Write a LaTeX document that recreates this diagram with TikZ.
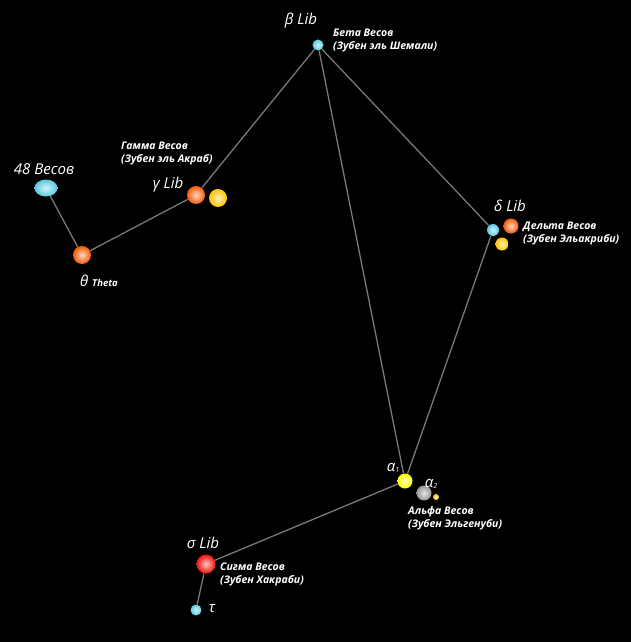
\documentclass[tikz,border=0pt]{standalone}
\usepackage{fontspec}
\setmainfont{Open Sans}
\usetikzlibrary{positioning}
\definecolor{starcyan}{RGB}{90,200,225}
\definecolor{starorange}{RGB}{245,90,5}
\definecolor{staryellow}{RGB}{255,195,0}
\definecolor{stargrey}{RGB}{150,150,150}
\definecolor{starred}{RGB}{235,20,10}
\definecolor{linkgrey}{RGB}{120,120,120}
\tikzset{
  star/.style={circle,inner sep=0pt,minimum size=#1,shading=radial},
  starcol/.style={inner color=#1!25!white,outer color=#1},
  link/.style={draw=linkgrey,line width=1.3pt},
  starname/.style={text=white,font=\itshape\fontsize{15}{15}\selectfont},
  info/.style={text=white,font=\bfseries\itshape\fontsize{10.5}{13}\selectfont,align=left,anchor=west,inner sep=0pt}
}
\begin{document}
\begin{tikzpicture}[x=1pt,y=-1pt]
  \fill[black] (0,0) rectangle (631,642);
  \useasboundingbox (0,0) rectangle (631,642);
  % stars
  \node[star=11pt,starcol=starcyan] (beta) at (318,45) {};
  \node[star=18pt,starcol=starorange] (gamma) at (196,195) {};
  \node[star=18pt,starcol=staryellow] (gammab) at (218,198) {};
  \node[star=17pt,starcol=starcyan,xscale=1.35] (f48) at (46,188) {};
  \node[star=18pt,starcol=starorange] (theta) at (82,255) {};
  \node[star=12pt,starcol=starcyan] (delta) at (493,230) {};
  \node[star=15pt,starcol=starorange] (deltab) at (511,226) {};
  \node[star=13pt,starcol=staryellow] (deltac) at (502,244) {};
  \node[star=15pt,starcol=yellow] (alpha) at (405,481) {};
  \node[star=15pt,starcol=stargrey] (alphab) at (424,493) {};
  \node[star=6pt,starcol=staryellow] (alphac) at (436,497) {};
  \node[star=19pt,starcol=starred] (sigma) at (206,564) {};
  \node[star=11pt,starcol=starcyan] (tau) at (196,610) {};
  % lines
  \draw[link] (f48) -- (theta) -- (gamma) -- (beta) -- (alpha) -- (delta) -- (beta);
  \draw[link] (alpha) -- (sigma) -- (tau);
  % labels
  \node[starname] (betaname) at (301,21) {β Lib};
  \node[info] (betainfo) at (333,41) {Бета Весов\\(Зубен эль Шемали)};
  \node[starname] (gammaname) at (168,185) {γ Lib};
  \node[info] (gammainfo) at (121,154) {Гамма Весов\\(Зубен эль Акраб)};
  \node[starname] (f48name) at (44,169) {48 Весов};
  \node[starname] (thetaname) at (99,281) {θ {\bfseries\fontsize{9.5}{12}\selectfont Theta}};
  \node[starname] (deltaname) at (510,206) {δ Lib};
  \node[info] (deltainfo) at (523,234) {Дельта Весов\\(Зубен Эльакриби)};
  \node[starname] (alphaname) at (393,468) {α\raisebox{-1pt}{\fontsize{7}{7}\selectfont 1}};
  \node[starname] (alphabname) at (431,484) {α\raisebox{-1pt}{\fontsize{7}{7}\selectfont 2}};
  \node[info] (alphainfo) at (408,518) {Альфа Весов\\(Зубен Эльгенуби)};
  \node[starname] (sigmaname) at (203,543) {σ Lib};
  \node[info] (sigmainfo) at (220,574) {Сигма Весов\\(Зубен Хакраби)};
  \node[starname] (tauname) at (212,609) {τ};
\end{tikzpicture}
\end{document}
